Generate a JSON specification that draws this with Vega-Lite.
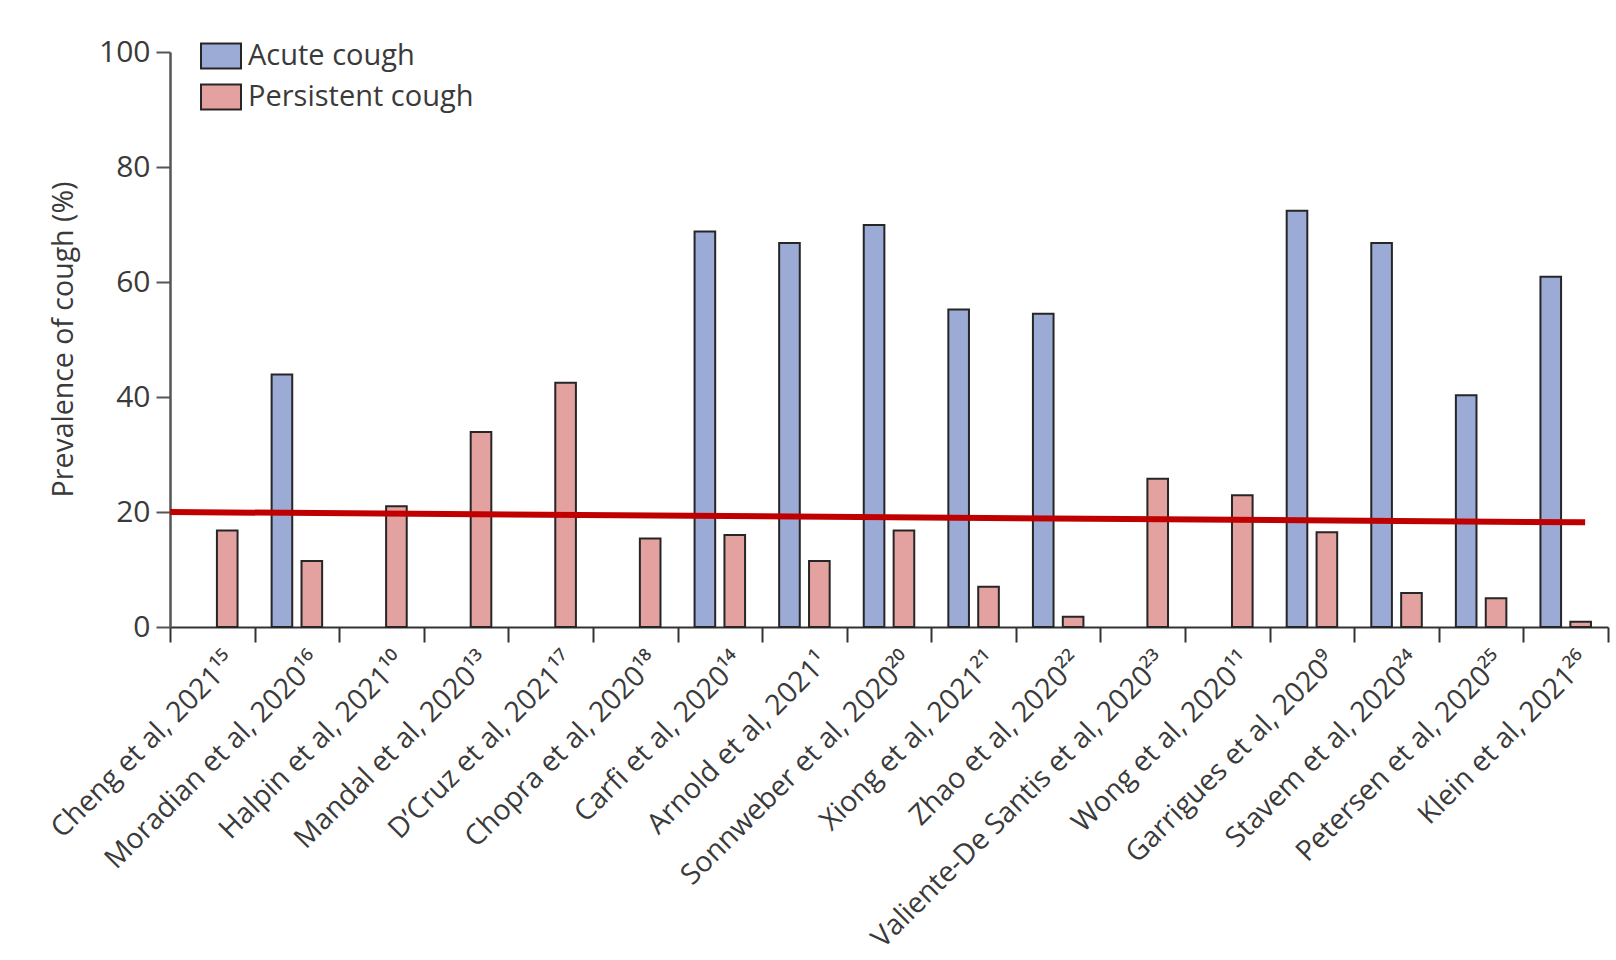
{
  "$schema": "https://vega.github.io/schema/vega-lite/v6.json",
  "width": 1438,
  "height": 575,
  "autosize": {"type": "none"},
  "padding": {"left": 170, "top": 52, "right": 8, "bottom": 333},
  "background": "white",
  "config": {
    "view": {"stroke": null},
    "font": "Open Sans",
    "axis": {"labelFont": "Open Sans", "titleFont": "Open Sans", "labelColor": "#3a3a3a", "titleColor": "#3a3a3a"}
  },
  "datasets": {
    "bars": [
      {"study": "Cheng et al, 2021¹⁵", "type": "Persistent cough", "value": 16.8},
      {"study": "Moradian et al, 2020¹⁶", "type": "Acute cough", "value": 43.9},
      {"study": "Moradian et al, 2020¹⁶", "type": "Persistent cough", "value": 11.5},
      {"study": "Halpin et al, 2021¹⁰", "type": "Persistent cough", "value": 21.0},
      {"study": "Mandal et al, 2020¹³", "type": "Persistent cough", "value": 33.9},
      {"study": "D’Cruz et al, 2021¹⁷", "type": "Persistent cough", "value": 42.5},
      {"study": "Chopra et al, 2020¹⁸", "type": "Persistent cough", "value": 15.4},
      {"study": "Carfi et al, 2020¹⁴", "type": "Acute cough", "value": 68.8},
      {"study": "Carfi et al, 2020¹⁴", "type": "Persistent cough", "value": 16.0},
      {"study": "Arnold et al, 2021¹", "type": "Acute cough", "value": 66.8},
      {"study": "Arnold et al, 2021¹", "type": "Persistent cough", "value": 11.5},
      {"study": "Sonnweber et al, 2020²⁰", "type": "Acute cough", "value": 69.9},
      {"study": "Sonnweber et al, 2020²⁰", "type": "Persistent cough", "value": 16.8},
      {"study": "Xiong et al, 2021²¹", "type": "Acute cough", "value": 55.2},
      {"study": "Xiong et al, 2021²¹", "type": "Persistent cough", "value": 7.0},
      {"study": "Zhao et al, 2020²²", "type": "Acute cough", "value": 54.5},
      {"study": "Zhao et al, 2020²²", "type": "Persistent cough", "value": 1.8},
      {"study": "Valiente-De Santis et al, 2020²³", "type": "Persistent cough", "value": 25.8},
      {"study": "Wong et al, 2020¹¹", "type": "Persistent cough", "value": 22.9},
      {"study": "Garrigues et al, 2020⁹", "type": "Acute cough", "value": 72.4},
      {"study": "Garrigues et al, 2020⁹", "type": "Persistent cough", "value": 16.5},
      {"study": "Stavem et al, 2020²⁴", "type": "Acute cough", "value": 66.8},
      {"study": "Stavem et al, 2020²⁴", "type": "Persistent cough", "value": 5.9},
      {"study": "Petersen et al, 2020²⁵", "type": "Acute cough", "value": 40.3},
      {"study": "Petersen et al, 2020²⁵", "type": "Persistent cough", "value": 5.0},
      {"study": "Klein et al, 2021²⁶", "type": "Acute cough", "value": 60.9},
      {"study": "Klein et al, 2021²⁶", "type": "Persistent cough", "value": 0.9}
    ],
    "trend": [
      {"pos": 0, "trend": 20.0},
      {"pos": 16.73, "trend": 18.2}
    ]
  },
  "layer": [
    {
      "data": {"name": "bars"},
      "mark": {"type": "bar", "stroke": "#262626", "strokeWidth": 2},
      "encoding": {
        "x": {
          "field": "study", "type": "nominal", "sort": null,
          "scale": {"paddingInner": 0, "paddingOuter": 0},
          "axis": {
            "title": null, "labelAngle": -45, "labelFontSize": 28.5, "labelPadding": 5, "labelOffset": 9,
            "tickBand": "extent", "tickSize": 15, "tickWidth": 2, "tickColor": "#333",
            "domainColor": "#333", "domainWidth": 2, "labelLimit": 0, "labelOverlap": false
          }
        },
        "xOffset": {
          "field": "type", "type": "nominal",
          "scale": {"domain": ["Acute cough", "Persistent cough"], "paddingInner": 0.31, "paddingOuter": 0.57}
        },
        "y": {
          "field": "value", "type": "quantitative",
          "scale": {"domain": [0, 100], "nice": false},
          "axis": {
            "title": "Prevalence of cough (%)", "titleFontSize": 28.5, "titleFontWeight": "normal",
            "values": [0, 20, 40, 60, 80, 100], "grid": false,
            "labelFontSize": 30, "labelPadding": 6, "tickSize": 14, "tickWidth": 2,
            "tickColor": "#555", "domainColor": "#555", "domainWidth": 2.5,
            "titleX": -107, "titleY": 287, "titleAngle": -90, "titleAlign": "center", "titleBaseline": "middle"
          }
        },
        "color": {
          "field": "type", "type": "nominal",
          "scale": {"domain": ["Acute cough", "Persistent cough"], "range": ["#9caad6", "#e3a19f"]},
          "legend": {
            "title": null, "orient": "none", "legendX": 30, "legendY": -17,
            "symbolType": "M-1,-0.625H1V0.625H-1Z", "symbolSize": 1600,
            "symbolStrokeColor": "#262626", "symbolStrokeWidth": 2, "symbolOpacity": 1,
            "labelFontSize": 29, "labelColor": "#3a3a3a", "labelFont": "Open Sans", "labelLimit": 0,
            "labelOffset": 6, "rowPadding": 3, "padding": 0
          }
        }
      }
    },
    {
      "data": {"name": "trend"},
      "mark": {"type": "line", "color": "#c00000", "strokeWidth": 6},
      "encoding": {
        "x": {"field": "pos", "type": "quantitative", "scale": {"domain": [0, 17], "nice": false}, "axis": null},
        "y": {"field": "trend", "type": "quantitative"}
      }
    }
  ],
  "resolve": {"scale": {"x": "independent"}}
}
